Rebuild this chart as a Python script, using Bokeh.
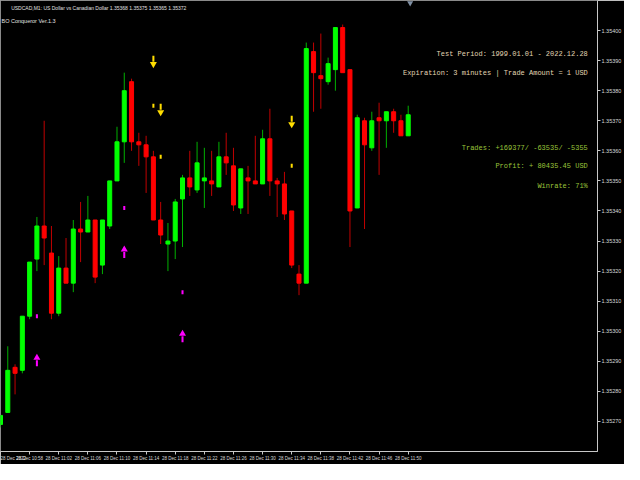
from bokeh.plotting import figure
from bokeh.models import (Range1d, FixedTicker, PrintfTickFormatter, ColumnDataSource,
                          Label)
from bokeh.embed import file_html
from bokeh.resources import INLINE

# ---------------- data (USDCAD, M1, 28 Dec 2022 from 10:54) ----------------
OPEN = [1.35269, 1.35273, 1.35288, 1.35287, 1.35305, 1.35324, 1.35335, 1.35326, 1.35306, 1.35321,
        1.35316, 1.35334, 1.35333, 1.35337, 1.35322, 1.35335, 1.35350, 1.35363, 1.35383, 1.35363,
        1.35362, 1.35358, 1.35337, 1.35329, 1.35330, 1.35344, 1.35351, 1.35347, 1.35350, 1.35350,
        1.35348, 1.35358, 1.35355, 1.35341, 1.35351, 1.35350, 1.35349, 1.35364, 1.35350, 1.35349,
        1.35340, 1.35319, 1.35316, 1.35393, 1.35385, 1.35383, 1.35387, 1.35401, 1.35387, 1.35341,
        1.35370, 1.35361, 1.35371, 1.35370, 1.35373, 1.35370, 1.35365]
HIGH = [1.35272, 1.35295, 1.35289, 1.35305, 1.35323, 1.35338, 1.35370, 1.35335, 1.35325, 1.35331,
        1.35337, 1.35343, 1.35345, 1.35337, 1.35337, 1.35350, 1.35368, 1.35386, 1.35384, 1.35366,
        1.35365, 1.35360, 1.35343, 1.35336, 1.35344, 1.35352, 1.35360, 1.35363, 1.35361, 1.35360,
        1.35363, 1.35366, 1.35361, 1.35354, 1.35355, 1.35365, 1.35367, 1.35374, 1.35351, 1.35353,
        1.35340, 1.35322, 1.35396, 1.35396, 1.35399, 1.35391, 1.35401, 1.35402, 1.35387, 1.35372,
        1.35371, 1.35373, 1.35376, 1.35373, 1.35374, 1.35372, 1.35375]
LOW = [1.35268, 1.35273, 1.35279, 1.35286, 1.35304, 1.35320, 1.35322, 1.35304, 1.35305, 1.35316,
       1.35313, 1.35323, 1.35333, 1.35316, 1.35319, 1.35334, 1.35350, 1.35356, 1.35360, 1.35355,
       1.35346, 1.35337, 1.35329, 1.35320, 1.35324, 1.35328, 1.35345, 1.35346, 1.35341, 1.35345,
       1.35348, 1.35352, 1.35340, 1.35339, 1.35339, 1.35349, 1.35349, 1.35345, 1.35338, 1.35337,
       1.35321, 1.35312, 1.35316, 1.35373, 1.35374, 1.35382, 1.35380, 1.35386, 1.35328, 1.35341,
       1.35334, 1.35360, 1.35352, 1.35361, 1.35366, 1.35365, 1.35365]
CLOSE = [1.35272, 1.35287, 1.35286, 1.35305, 1.35323, 1.35335, 1.35331, 1.35306, 1.35321, 1.35316,
         1.35334, 1.35333, 1.35337, 1.35318, 1.35337, 1.35350, 1.35363, 1.35380, 1.35363, 1.35362,
         1.35358, 1.35337, 1.35332, 1.35330, 1.35343, 1.35351, 1.35348, 1.35356, 1.35351, 1.35349,
         1.35358, 1.35356, 1.35342, 1.35354, 1.35350, 1.35349, 1.35364, 1.35350, 1.35349, 1.35339,
         1.35322, 1.35316, 1.35394, 1.35386, 1.35384, 1.35389, 1.35401, 1.35386, 1.35340, 1.35371,
         1.35362, 1.35370, 1.35370, 1.35373, 1.35370, 1.35365, 1.35372]

# signals (bar index, arrow level, dot level)
BUY_IDX = [5, 17, 25]
BUY_ARROW = [1.35290, 1.35326, 1.35298]
BUY_DOT = [1.35305, 1.35341, 1.35313]
SELL_IDX = [21, 22, 40]
SELL_ARROW = [1.35390, 1.35374, 1.35370]
SELL_DOT = [1.35375, 1.35358, 1.35355]

# axes
Y_TICKS = [1.35270, 1.35280, 1.35290, 1.35300, 1.35310, 1.35320, 1.35330,
           1.35340, 1.35350, 1.35360, 1.35370, 1.35380, 1.35390, 1.35400]
TIME_IDX = [0, 4, 8, 12, 16, 20, 24, 28, 32, 36, 40, 44, 48, 52, 56]
TIME_LABELS = ["28 Dec 2022", "28 Dec 10:58", "28 Dec 11:02", "28 Dec 11:06", "28 Dec 11:10",
               "28 Dec 11:14", "28 Dec 11:18", "28 Dec 11:22", "28 Dec 11:26", "28 Dec 11:30",
               "28 Dec 11:34", "28 Dec 11:38", "28 Dec 11:42", "28 Dec 11:46", "28 Dec 11:50"]

HEADER = "USDCAD,M1: US Dollar vs Canadian Dollar 1.35368 1.35375 1.35365 1.35372"
EA_NAME = "BO Conqueror Ver.1.3"
INFO_TOP = ["Test Period: 1999.01.01 - 2022.12.28",
            "Expiration: 3 minutes | Trade Amount = 1 USD"]
INFO_BOTTOM = ["Trades: +169377/ -63535/ -5355",
               "Profit: + 80435.45 USD",
               "Winrate: 71%"]

# ---------------- layout ----------------
W, H = 624, 464
X0, X1 = 0, 82
Y_BOT, Y_TOP = 1.35260, 1.35410
BORDER_R, BORDER_B = 26, 13
FRAME_W, FRAME_H = 589, H - BORDER_B
PXX = (X1 - X0) / FRAME_W
PXY = (Y_TOP - Y_BOT) / FRAME_H


def ref_x(px):
    return X0 + (px - 2) / 615 * (X1 - X0)


def ref_y(py):
    return Y_TOP - (py - 1) / 466 * (Y_TOP - Y_BOT)


p = figure(width=W, height=H, output_backend="svg", toolbar_location=None,
           x_range=Range1d(X0, X1), y_range=Range1d(Y_BOT, Y_TOP),
           y_axis_location="right", x_axis_location="below",
           min_border_left=0, min_border_top=0,
           min_border_right=BORDER_R, min_border_bottom=BORDER_B)
p.background_fill_color = "black"
p.border_fill_color = "black"
p.outline_line_color = "#8a8a8a"
p.xgrid.visible = False
p.ygrid.visible = False

ax = p.yaxis[0]
ax.ticker = FixedTicker(ticks=Y_TICKS)
ax.formatter = PrintfTickFormatter(format="%.5f")
ax.axis_line_color = "#c8c8c8"
ax.major_tick_line_color = "#c8c8c8"
ax.major_tick_out = 3
ax.major_tick_in = 0
ax.minor_tick_line_color = None
ax.major_label_standoff = 1
ax.major_label_text_font = "Liberation Sans"
ax.major_label_text_font_size = "5.5px"
ax.major_label_text_color = "#d8d8d8"

bx = p.xaxis[0]
bx.ticker = FixedTicker(ticks=TIME_IDX)
bx.major_label_overrides = {i: t for i, t in zip(TIME_IDX, TIME_LABELS)}
bx.axis_line_color = "#c8c8c8"
bx.major_tick_line_color = "#c8c8c8"
bx.major_tick_out = 3
bx.major_tick_in = 0
bx.minor_tick_line_color = None
bx.major_label_standoff = 1
bx.major_label_text_align = "left"
bx.major_label_text_font = "Liberation Sans"
bx.major_label_text_font_size = "4.5px"
bx.major_label_text_color = "#d8d8d8"

# ---------------- candles ----------------
idx = list(range(len(OPEN)))
up = [c >= o for o, c in zip(OPEN, CLOSE)]
src = ColumnDataSource(dict(
    x=idx, o=OPEN, h=HIGH, l=LOW, c=CLOSE,
    top=[max(o, c) for o, c in zip(OPEN, CLOSE)],
    bottom=[min(o, c) for o, c in zip(OPEN, CLOSE)],
    color=["#00ff00" if u else "#ff0000" for u in up],
    wick=["#00b000" if u else "#c00000" for u in up],
))
p.segment(x0="x", y0="l", x1="x", y1="h", line_color="wick", line_width=1, source=src)
p.vbar(x="x", width=0.55, top="top", bottom="bottom", fill_color="color",
       line_color="color", line_width=1, source=src)

# ---------------- signals ----------------
buy = ColumnDataSource(dict(
    x=BUY_IDX,
    head=[a + 3.5 * PXY for a in BUY_ARROW],
    s_top=[a + 1.0 * PXY for a in BUY_ARROW],
    s_bot=[a - 5.0 * PXY for a in BUY_ARROW],
    d_top=[d + 2.0 * PXY for d in BUY_DOT],
    d_bot=[d - 2.0 * PXY for d in BUY_DOT],
))
p.vbar(x="x", width=2 * PXX, top="s_top", bottom="s_bot", fill_color="#ff00ff",
       line_color=None, source=buy)
p.scatter(x="x", y="head", marker="triangle", size=7, fill_color="#ff00ff",
          line_color=None, source=buy)
p.vbar(x="x", width=2 * PXX, top="d_top", bottom="d_bot", fill_color="#ff00ff",
       line_color=None, source=buy)

sell = ColumnDataSource(dict(
    x=SELL_IDX,
    head=[a - 3.5 * PXY for a in SELL_ARROW],
    s_top=[a + 5.0 * PXY for a in SELL_ARROW],
    s_bot=[a - 1.0 * PXY for a in SELL_ARROW],
    d_top=[d + 2.0 * PXY for d in SELL_DOT],
    d_bot=[d - 2.0 * PXY for d in SELL_DOT],
))
p.vbar(x="x", width=2 * PXX, top="s_top", bottom="s_bot", fill_color="#ffdd00",
       line_color=None, source=sell)
p.scatter(x="x", y="head", marker="inverted_triangle", size=7, fill_color="#ffdd00",
          line_color=None, source=sell)
p.vbar(x="x", width=2 * PXX, top="d_top", bottom="d_bot", fill_color="#ffdd00",
       line_color=None, source=sell)

# chart shift marker
p.scatter(x=[ref_x(424)], y=[Y_TOP - 2.5 * PXY], marker="inverted_triangle", size=6,
          fill_color="#8090a4", line_color=None)

# ---------------- texts ----------------
p.add_layout(Label(x=ref_x(13), y=ref_y(9), text=HEADER, text_align="left",
                   text_baseline="middle", text_font="Liberation Sans",
                   text_font_size="5px", text_color="#e0e0e0"))
p.add_layout(Label(x=ref_x(3), y=ref_y(22), text=EA_NAME, text_align="left",
                   text_baseline="middle", text_font="Liberation Sans",
                   text_font_size="5.5px", text_color="#e0e0e0"))
for t, yy in zip(INFO_TOP, [56, 76]):
    p.add_layout(Label(x=ref_x(607), y=ref_y(yy), text=t, text_align="right",
                       text_baseline="middle", text_font="Liberation Mono",
                       text_font_size="7px", text_color="#e2d6b4"))
for t, yy in zip(INFO_BOTTOM, [153, 172, 193]):
    p.add_layout(Label(x=ref_x(607), y=ref_y(yy), text=t, text_align="right",
                       text_baseline="middle", text_font="Liberation Mono",
                       text_font_size="7px", text_color="#9ac43a"))

open("out.html", "w").write(file_html(p, INLINE))
